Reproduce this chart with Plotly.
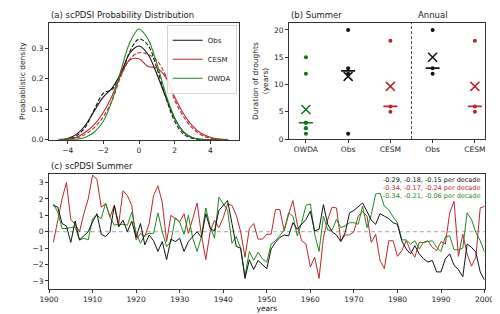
import plotly.graph_objects as go
import numpy as np

# ---------------- data ----------------
# (a) probability densities
dens_x = [-4.5, -4, -3.5, -3, -2.5, -2, -1.5, -1, -0.5, 0, 0.5, 1, 1.5, 2, 2.5, 3, 3.5, 4, 4.5, 5]
obs_sum = [0.0, 0.004, 0.018, 0.048, 0.095, 0.14, 0.17, 0.22, 0.285, 0.307, 0.28, 0.215, 0.14, 0.07, 0.025, 0.006, 0.001, 0, 0, 0]
obs_ann = [0.0, 0.002, 0.013, 0.042, 0.10, 0.152, 0.165, 0.215, 0.29, 0.33, 0.31, 0.235, 0.14, 0.06, 0.018, 0.004, 0.0, 0, 0, 0]
cesm_sum = [0.0, 0.002, 0.008, 0.025, 0.05, 0.09, 0.145, 0.215, 0.262, 0.265, 0.24, 0.235, 0.205, 0.14, 0.085, 0.045, 0.02, 0.008, 0.002, 0]
cesm_ann = [0.0, 0.001, 0.005, 0.018, 0.04, 0.075, 0.13, 0.21, 0.265, 0.285, 0.28, 0.26, 0.21, 0.13, 0.075, 0.038, 0.015, 0.005, 0.001, 0]
owda_sum = [0, 0, 0.001, 0.008, 0.025, 0.06, 0.13, 0.23, 0.32, 0.363, 0.33, 0.25, 0.15, 0.072, 0.025, 0.006, 0.001, 0, 0, 0]

# (b) drought durations (years)
b_labels = ["OWDA", "Obs", "CESM", "Obs", "CESM"]
dur_owda_sum = [15, 12, 3, 3, 2, 2, 1]
dur_obs_sum = [20, 13, 12, 1]
dur_cesm_sum = [18, 6, 5]
dur_obs_ann = [20, 13, 12]
dur_cesm_ann = [18, 6, 5]

# (c) scPDSI summer time series
years = list(range(1901, 2001))
obs_ts = [1.6, 1.5, 0.5, 0.35, -0.65, 0.65, -0.5, -0.25, 0.0, 0.6,
          1.1, -0.15, -0.3, 0.0, 1.6, 0.3, 0.7, 0.0, 0.65, -0.35,
          0.5, -0.8, -0.2, -0.55, -1.2, -0.6, -1.7, -0.45, -0.6, -0.4,
          -1.2, -0.6, -0.3, 0.0, -0.35, 1.1, 0.2, 0.05, 1.3, 1.6,
          1.9, 0.5, -0.9, -1.0, -2.85, -1.7, -2.3, -1.75, -2.0, -2.25,
          -1.05, -0.65, -0.35, -0.2, -0.25, 0.55, 0.15, 0.45, 0.75, 1.25,
          0.05, 0.15, 1.65, 0.45, 0.0, -0.2, -0.6, -0.05, 1.15, 1.3,
          1.55, 1.75, 1.25, 0.7, 0.45, 1.1, 0.95, 0.8, 0.55, 0.45,
          -0.55, -1.05, -1.35, -0.85, -1.35, -1.65, -1.85, -1.75, -2.45, -2.45,
          -1.65, -1.35, -2.05, -2.3, -2.75, -0.75, -0.95, -1.25, -2.45, -2.95]
cesm_ts = [-0.65, 0.8, 2.0, 3.0, 0.75, 0.45, 0.0, 1.1, 2.0, 3.45,
           3.2, 1.5, 1.7, 0.9, 1.6, 0.5, 2.5, 2.2, 1.6, -0.5,
           -0.1, -0.3, 0.5, 2.2, 2.8, 1.8, -0.6, 1.0, 0.8, 0.6,
           1.1, -0.1, 0.8, 1.75, -0.2, -1.7, 0.0, 0.7, 0.25, 0.85,
           1.7, 1.6, 1.0, 0.0, -1.55, 0.2, 0.5, -0.45, -0.45, -0.15,
           -0.15, 1.35, 1.35, 0.05, 1.05, 1.9, 0.45, -0.55, -0.75, -2.15,
           -1.55, -2.85, -0.35, 0.75, 1.5, 1.45, -0.55, -0.2, -0.2, 0.0,
           0.95, 1.25, 0.95, -0.65, -0.15, -1.75, -2.25, -0.55, -0.55, -1.5,
           -1.15, -0.55, -1.15, -1.55, -0.65, -0.65, -0.55, -0.95, -1.15, -0.6,
           -0.75, 1.15, 1.85, -1.5, -0.15, -1.35, -2.1, -1.55, 1.45, 1.55]
owda_ts = [1.7, 1.2, 0.2, 0.2, 0.25, 0.3, -0.5, -0.4, -0.5, 0.8,
           1.0, 0.8, 1.75, 0.9, 0.4, 0.45, 0.45, 0.4, 1.2, -0.1,
           -0.7, -0.2, -0.1, -0.1, 1.15, 0.0, -0.9, -0.6, 0.85, 0.6,
           -0.15, 1.0, -0.4, -1.2, -0.3, 1.45, 0.3, -0.4, 2.1, 1.7,
           1.3, -0.7, -0.3, -1.0, -2.7, -1.2, -1.75, -1.25, -1.65, -1.85,
           -0.75, -0.55, -0.25, 0.1, 1.15, 0.95, -0.25, 0.55, 1.6, 1.7,
           -0.15, -1.2, 0.95, 0.1, 0.1, 0.75, 0.25, 0.35, 0.55, 0.55,
           0.45, 1.55, 0.25, 1.05, 2.3, 2.35, 1.55, 1.35, 0.9, 0.55,
           -0.5, -0.5, -0.75, -0.55, -1.05, -0.65, -0.6, -0.55, -0.95, -1.2,
           -0.3, -0.25, -1.1, -1.1, -1.0, 1.15, 0.75, -0.05, -0.55, -1.25]

trend_texts = ["-0.29, -0.18, -0.15 per decade",
               "-0.34, -0.17, -0.24 per decade",
               "-0.34, -0.21, -0.06 per decade"]

# ---------------- style ----------------
BLACK = "#111111"
RED = "#b8282e"
GREEN = "#1f8a1f"
DGREEN = "#137313"
FONT = "DejaVu Sans"
AX = "#333333"

fig = go.Figure()

# (a)
for ys, col, dash, name, show in [
    (obs_sum, BLACK, "solid", "Obs", True),
    (obs_ann, BLACK, "4px,2px", "Obs", False),
    (cesm_sum, RED, "solid", "CESM", True),
    (cesm_ann, RED, "4px,2px", "CESM", False),
    (owda_sum, GREEN, "solid", "OWDA", True),
]:
    fig.add_trace(go.Scatter(x=dens_x, y=ys, mode="lines", name=name, showlegend=show,
                             line=dict(color=col, width=1.1, dash=dash, shape="spline", smoothing=1.0),
                             xaxis="x", yaxis="y"))

# (b)
groups = [(0, dur_owda_sum, DGREEN), (1, dur_obs_sum, BLACK), (2, dur_cesm_sum, RED),
          (3, dur_obs_ann, BLACK), (4, dur_cesm_ann, RED)]
for pos, vals, col in groups:
    fig.add_trace(go.Scatter(x=[pos] * len(vals), y=vals, mode="markers", showlegend=False,
                             marker=dict(color=col, size=4), xaxis="x2", yaxis="y2"))
    fig.add_trace(go.Scatter(x=[pos], y=[float(np.median(vals))], mode="markers", showlegend=False,
                             marker=dict(symbol="line-ew-open", color=col, size=10,
                                         line=dict(color=col, width=1.6)),
                             xaxis="x2", yaxis="y2"))
    fig.add_trace(go.Scatter(x=[pos], y=[float(np.mean(vals))], mode="markers", showlegend=False,
                             marker=dict(symbol="x-thin-open", color=col, size=9,
                                         line=dict(color=col, width=1.5)),
                             xaxis="x2", yaxis="y2"))

# (c)
for ys, col in [(cesm_ts, RED), (owda_ts, GREEN), (obs_ts, BLACK)]:
    fig.add_trace(go.Scatter(x=years, y=ys, mode="lines", showlegend=False,
                             line=dict(color=col, width=1.0), xaxis="x3", yaxis="y3"))

axis_common = dict(showline=True, linecolor=AX, linewidth=1, mirror=True, ticks="outside",
                   ticklen=3, tickwidth=0.8, tickcolor=AX, showgrid=False, zeroline=False,
                   tickfont=dict(family=FONT, size=7.5, color="#222"))

fig.update_layout(
    width=500, height=314,
    margin=dict(l=0, r=0, t=0, b=0),
    paper_bgcolor="white", plot_bgcolor="white",
    font=dict(family=FONT, size=8, color="#222"),
    xaxis=dict(domain=[0.0646, 0.46], range=[-5.05, 5.6], tickvals=[-4, -2, 0, 2, 4],
               anchor="y", **axis_common),
    yaxis=dict(domain=[0.574, 0.952], range=[0, 0.383], tickvals=[0, 0.1, 0.2, 0.3],
               tickformat=".1f", anchor="x",
               title=dict(text="Proabablistic density", font=dict(family=FONT, size=7.5), standoff=4),
               **axis_common),
    xaxis2=dict(domain=[0.5646, 0.972], range=[-0.4, 4.23], tickvals=[0, 1, 2, 3, 4],
                ticktext=b_labels, anchor="y2", **axis_common),
    yaxis2=dict(domain=[0.5755, 0.952], range=[0, 21.3], tickvals=[0, 5, 10, 15, 20],
                anchor="x2",
                title=dict(text="Duration of droughts<br>(years)", font=dict(family=FONT, size=7.5), standoff=4),
                **axis_common),
    xaxis3=dict(domain=[0.0646, 0.972], range=[1900, 2000], tickvals=list(range(1900, 2001, 10)),
                anchor="y3",
                title=dict(text="years", font=dict(family=FONT, size=7.5), standoff=1),
                **axis_common),
    yaxis3=dict(domain=[0.0901, 0.4618], range=[-3.5, 3.5], tickvals=[-3, -2, -1, 0, 1, 2, 3],
                anchor="x3", **axis_common),
    legend=dict(x=0.456, y=0.945, xanchor="right", yanchor="top",
                bgcolor="rgba(255,255,255,0.9)", bordercolor="#cccccc", borderwidth=0.8,
                font=dict(family=FONT, size=7), itemwidth=30, tracegroupgap=0),
    shapes=[
        dict(type="line", xref="x2", yref="y2 domain", x0=2.5, x1=2.5, y0=0, y1=1,
             line=dict(color="#333", width=0.9, dash="3px,2px")),
        dict(type="line", xref="x3 domain", yref="y3", x0=0, x1=1, y0=0, y1=0,
             line=dict(color="#999", width=0.9, dash="4px,3px"), layer="below"),
    ],
)

ann = [
    dict(text="(a) scPDSI Probability Distribution", x=0.0646, y=0.955, xanchor="left", yanchor="bottom",
         font=dict(size=8.5)),
    dict(text="(b) Summer", x=0.5646, y=0.955, xanchor="left", yanchor="bottom", font=dict(size=8.5)),
    dict(text="Annual", x=0.864, y=0.955, xanchor="center", yanchor="bottom", font=dict(size=8.5)),
    dict(text="(c) scPDSI Summer", x=0.0646, y=0.465, xanchor="left", yanchor="bottom", font=dict(size=8.5)),
]
for a in ann:
    a.update(xref="paper", yref="paper", showarrow=False)
    a["font"]["family"] = FONT
    a["font"]["color"] = "#222"
    fig.add_annotation(**a)

for i, (txt, col) in enumerate(zip(trend_texts, [BLACK, RED, GREEN])):
    fig.add_annotation(text=txt, xref="paper", yref="paper", x=0.966, y=0.442 - i * 0.026,
                       xanchor="right", yanchor="middle", showarrow=False,
                       font=dict(family=FONT, size=6.5, color=col))

fig.write_html("out.html")
